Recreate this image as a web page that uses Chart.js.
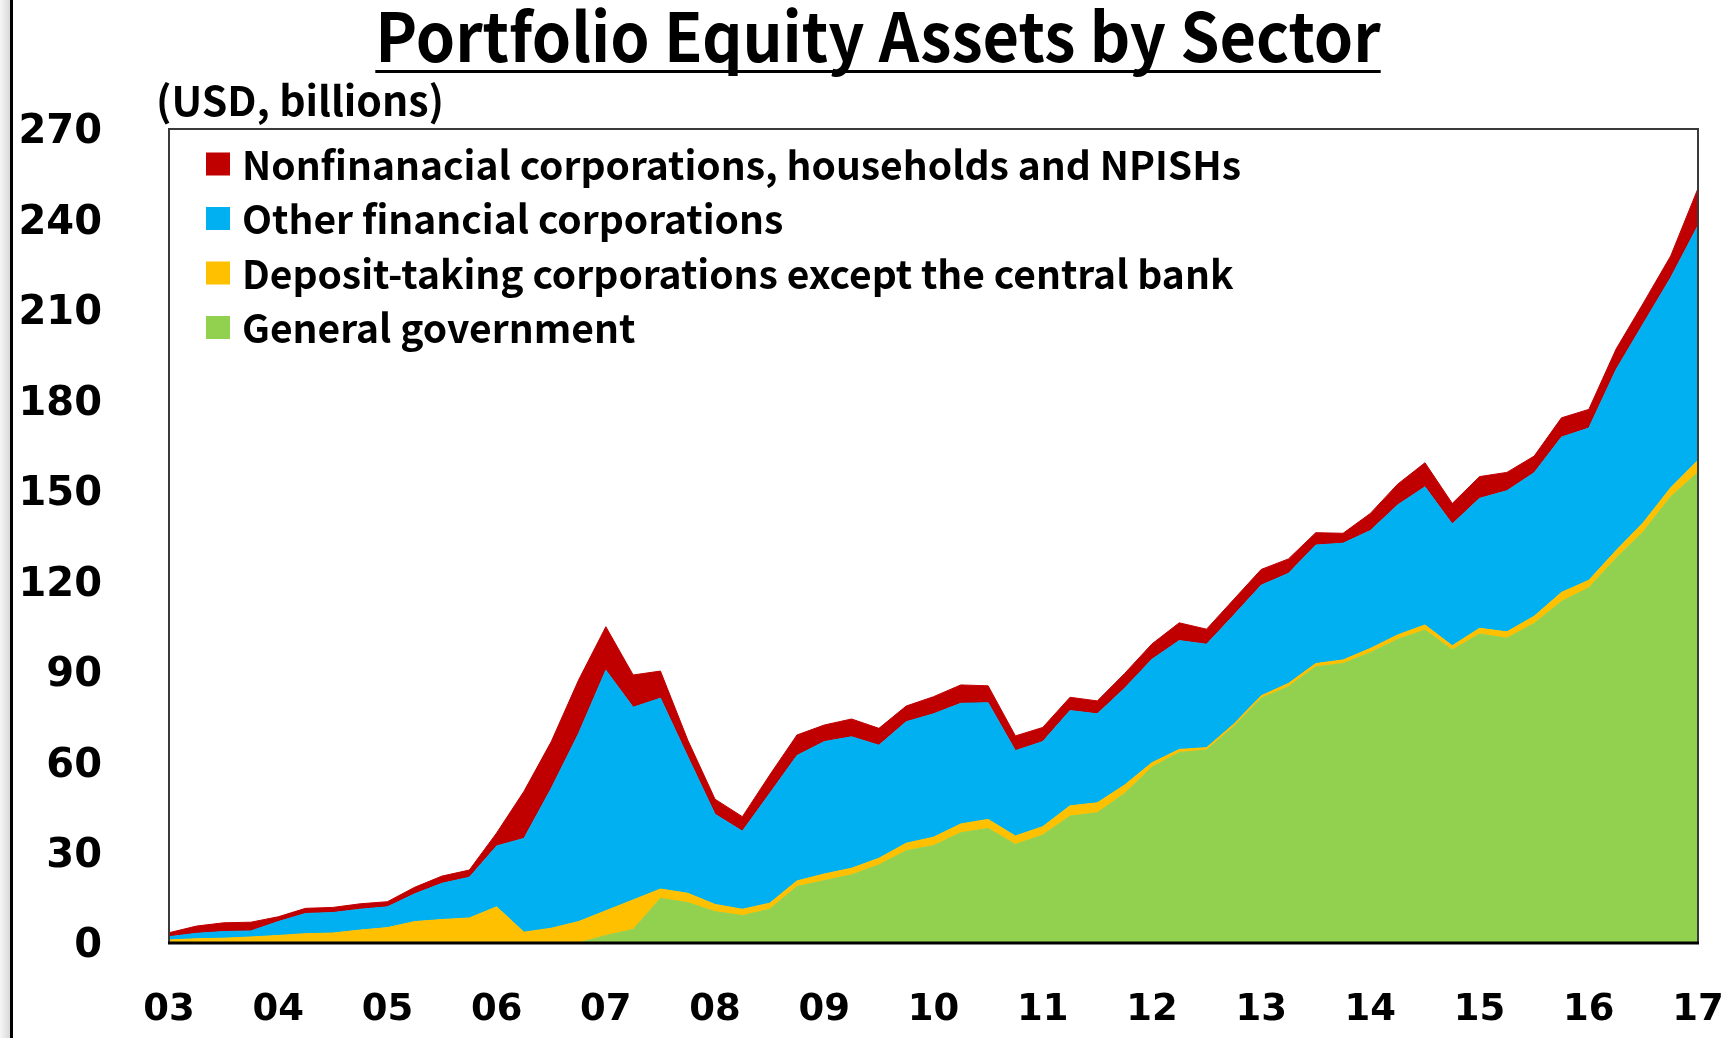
<!DOCTYPE html>
<html>
<head>
<meta charset="utf-8">
<title>Portfolio Equity Assets by Sector</title>
<script src="https://cdn.jsdelivr.net/npm/chart.js@4.4.1/dist/chart.umd.min.js"></script>
<style>
  html, body { margin: 0; padding: 0; background: #fff; }
  #wrap { position: relative; width: 1733px; height: 1038px; overflow: hidden; background: #fff; }
  #edge {
    position: absolute; left: 0; top: 0; width: 10px; height: 1038px;
    background: linear-gradient(to right, #f6f6f6, #d9d9d9);
    border-right: 3px solid #000;
  }
  #title {
    position: absolute; left: 0; width: 1756px; top: -1px;
    margin: 0; text-align: center;
    font: bold 67px/1 "Noto Sans CJK KR", "Noto Sans", sans-serif;
    color: #000;
    transform: scaleX(0.94);
    transform-origin: 878px 0;
  }
  #title span {
    text-decoration: underline;
    text-decoration-thickness: 3px;
    text-underline-offset: 8px;
    text-decoration-skip-ink: none;
  }
  #unit {
    position: absolute; left: 156px; top: 78px;
    font: bold 41px/1 "Noto Sans CJK KR", "Noto Sans", sans-serif;
    color: #000;
  }
  #chartBox { position: absolute; left: 0; top: 0; width: 1733px; height: 1038px; }
</style>
</head>
<body>
<div id="wrap">
  <div id="edge"></div>
  <div id="chartBox"><canvas id="sectorChart"></canvas></div>
  <h1 id="title"><span>Portfolio Equity Assets by Sector</span></h1>
  <div id="unit">(USD, billions)</div>
</div>
<script>
// quarterly positions, 2003Q1 .. 2017Q1 (USD bn)
const years = ['03', '04', '05', '06', '07', '08', '09', '10', '11', '12', '13', '14', '15', '16', '17'];

const generalGovernment = [
  0, 0, 0, 0, 0, 0, 0, 0, 0, 0,
  0, 0, 0, 0, 0, 0, 2.5, 4.5, 14.8, 13.4,
  10.4, 9.1, 11.2, 18.7, 20.7, 22.6, 25.9, 30.6, 32.3, 36.6,
  38.0, 32.7, 35.8, 42.1, 43.2, 49.6, 58.3, 63.2, 64.0, 71.8,
  81.2, 85.0, 91.6, 92.7, 96.3, 100.7, 103.8, 97.2, 102.5, 101.1,
  106.0, 113.3, 117.8, 127.6, 136.5, 148.0, 156.1
];
const depositTaking = [
  1.0, 1.4, 1.6, 2.0, 2.5, 3.1, 3.3, 4.3, 5.1, 7.1,
  7.8, 8.3, 12.0, 3.6, 4.9, 7.1, 8.2, 9.8, 3.1, 3.1,
  2.4, 2.1, 2.0, 1.9, 2.2, 2.2, 2.2, 2.5, 2.8, 2.9,
  3.0, 2.8, 2.8, 3.4, 3.3, 2.8, 1.5, 1.0, 0.8, 0.8,
  0.8, 1.1, 1.1, 1.2, 1.4, 1.5, 1.7, 1.4, 1.9, 2.1,
  2.4, 3.0, 2.5, 2.6, 3.0, 3.0, 4.0
];
const otherFinancial = [
  1.1, 1.8, 2.2, 2.0, 4.6, 6.7, 6.8, 6.9, 6.9, 9.2,
  12.0, 13.5, 20.2, 31.1, 46.4, 62.4, 79.8, 63.9, 63.3, 45.3,
  29.9, 25.9, 36.4, 41.6, 43.9, 43.6, 37.5, 40.3, 40.9, 40.0,
  38.7, 28.3, 28.2, 31.6, 29.5, 32.1, 34.3, 36.1, 34.3, 36.2,
  36.7, 36.5, 39.3, 38.7, 39.1, 43.1, 45.8, 40.4, 43.1, 46.8,
  47.6, 51.5, 50.5, 60.0, 66.0, 69.7, 77.9
];
const nonfinancial = [
  1.3, 2.4, 2.9, 2.9, 1.6, 1.7, 1.7, 1.8, 1.7, 2.2,
  2.4, 2.4, 4.3, 15.6, 15.5, 17.7, 14.4, 10.7, 9.0, 5.5,
  5.0, 4.8, 6.1, 6.8, 5.5, 5.9, 5.6, 5.2, 5.7, 6.1,
  5.6, 4.9, 4.7, 4.4, 4.3, 4.9, 5.1, 5.9, 5.0, 5.2,
  5.2, 4.8, 4.1, 3.3, 5.7, 6.9, 8.0, 6.8, 7.2, 6.1,
  5.5, 6.4, 6.2, 6.8, 6.8, 7.2, 12.3
];

// one label per quarter, year ticks only on Q1
const quarters = [];
years.forEach((y, k) => {
  const n = k === years.length - 1 ? 1 : 4;
  for (let q = 1; q <= n; q++) quarters.push(y + 'Q' + q);
});

const LEGEND_FONT = 'bold 39px "Noto Sans CJK KR", "Noto Sans", sans-serif';

// frame round the plot, heavier base line
const plotFrame = {
  id: 'plotFrame',
  afterDatasetsDraw(chart) {
    const {ctx, chartArea: a} = chart;
    ctx.save();
    ctx.strokeStyle = '#3a3a3a';
    ctx.lineWidth = 2;
    ctx.strokeRect(a.left, a.top, a.right - a.left, a.bottom - a.top);
    ctx.strokeStyle = '#000';
    ctx.lineWidth = 3;
    ctx.beginPath();
    ctx.moveTo(a.left - 1, a.bottom);
    ctx.lineTo(a.right + 1, a.bottom);
    ctx.stroke();
    ctx.restore();
  }
};

// legend stacked top-down inside the plot
const sectorLegend = {
  id: 'sectorLegend',
  afterDraw(chart) {
    const {ctx, chartArea: a} = chart;
    const sets = chart.data.datasets.slice().reverse();
    ctx.save();
    ctx.font = LEGEND_FONT;
    ctx.textBaseline = 'middle';
    ctx.textAlign = 'left';
    sets.forEach((ds, k) => {
      const y = a.top + 35 + k * 54.5;
      ctx.fillStyle = ds.backgroundColor;
      ctx.fillRect(a.left + 37, y - 11.5, 24, 23);
      ctx.fillStyle = '#000';
      ctx.fillText(ds.label, a.left + 73, y + 1);
    });
    ctx.restore();
  }
};

function area(label, data, color, fill) {
  return {
    label: label,
    data: data,
    backgroundColor: color,
    borderColor: color,
    borderWidth: 1,
    pointRadius: 0,
    pointHoverRadius: 0,
    tension: 0,
    fill: fill
  };
}

function draw() {
  const ctx = document.getElementById('sectorChart');
  new Chart(ctx, {
    type: 'line',
    data: {
      labels: quarters,
      datasets: [
        area('General government', generalGovernment, '#92D050', 'origin'),
        area('Deposit-taking corporations except the central bank', depositTaking, '#FFC000', '-1'),
        area('Other financial corporations', otherFinancial, '#00B0F0', '-1'),
        area('Nonfinanacial corporations, households and NPISHs', nonfinancial, '#C00000', '-1')
      ]
    },
    options: {
      responsive: true,
      maintainAspectRatio: false,
      animation: false,
      events: [],
      layout: {
        padding: {left: 19, right: 35, top: 129, bottom: 0}
      },
      scales: {
        x: {
          offset: false,
          // hidden tick marks only push the labels down
          grid: {display: false, drawTicks: true, tickLength: 42},
          border: {display: false},
          afterFit(scale) { scale.height = 95; },
          ticks: {
            autoSkip: false,
            maxRotation: 0,
            padding: 3,
            color: '#000',
            font: {family: '"DejaVu Sans"', weight: 'bold', size: 37},
            callback: (v, i) => (i % 4 === 0 ? years[i / 4] : '')
          }
        },
        y: {
          stacked: true,
          min: 0,
          max: 270,
          grid: {display: false, drawTicks: true, tickLength: 64},
          border: {display: false},
          afterFit(scale) { scale.width = 150; },
          ticks: {
            stepSize: 30,
            padding: 3,
            labelOffset: 4,
            color: '#000',
            font: {family: '"DejaVu Sans"', weight: 'bold', size: 40}
          }
        }
      },
      plugins: {
        legend: {display: false},
        tooltip: {enabled: false}
      }
    },
    plugins: [plotFrame, sectorLegend]
  });
}

document.fonts.load(LEGEND_FONT).then(draw, draw);
</script>
</body>
</html>
